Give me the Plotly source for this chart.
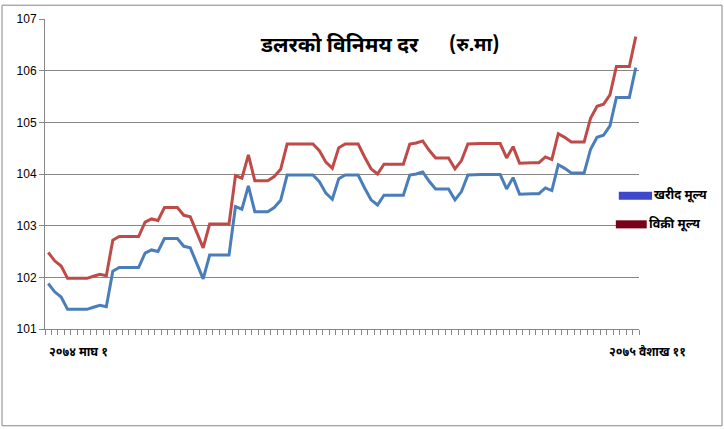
import plotly.graph_objects as go

buy = [101.88, 101.72, 101.62, 101.38, 101.38, 101.38, 101.38, 101.42, 101.46, 101.43,
       102.12, 102.19, 102.19, 102.19, 102.19, 102.47, 102.53, 102.50, 102.75, 102.75,
       102.75, 102.60, 102.57, 102.27, 101.97, 102.43, 102.43, 102.43, 102.43, 103.37,
       103.32, 103.77, 103.27, 103.27, 103.27, 103.35, 103.49, 103.98, 103.98, 103.98,
       103.98, 103.98, 103.85, 103.63, 103.51, 103.91, 103.98, 103.98, 103.98, 103.73,
       103.50, 103.40, 103.59, 103.59, 103.59, 103.59, 103.98, 104.00, 104.04, 103.86,
       103.71, 103.71, 103.71, 103.50, 103.66, 103.98, 103.99, 103.99, 103.99, 103.99,
       103.99, 103.71, 103.93, 103.61, 103.62, 103.62, 103.62, 103.73, 103.68, 104.18,
       104.11, 104.02, 104.02, 104.02, 104.48, 104.71, 104.75, 104.93, 105.48, 105.48,
       105.48, 106.06]

sell = [102.48, 102.32, 102.22, 101.98, 101.98, 101.98, 101.98, 102.02, 102.06, 102.03,
        102.72, 102.79, 102.79, 102.79, 102.79, 103.07, 103.13, 103.10, 103.35, 103.35,
        103.35, 103.20, 103.17, 102.87, 102.57, 103.03, 103.03, 103.03, 103.03, 103.97,
        103.92, 104.37, 103.87, 103.87, 103.87, 103.95, 104.09, 104.58, 104.58, 104.58,
        104.58, 104.58, 104.45, 104.23, 104.11, 104.51, 104.58, 104.58, 104.58, 104.33,
        104.10, 104.00, 104.19, 104.19, 104.19, 104.19, 104.58, 104.60, 104.64, 104.46,
        104.31, 104.31, 104.31, 104.10, 104.26, 104.58, 104.59, 104.59, 104.59, 104.59,
        104.59, 104.31, 104.53, 104.21, 104.22, 104.22, 104.22, 104.33, 104.28, 104.78,
        104.71, 104.62, 104.62, 104.62, 105.08, 105.31, 105.35, 105.53, 106.08, 106.08,
        106.08, 106.66]

title_main = "डलरको विनिमय दर"
title_unit = "(रु.मा)"
start_label = "२०७४ माघ १"
end_label = "२०७५ वैशाख ११"
legend_names = ["खरीद मूल्य", "विक्री मूल्य"]
legend_colors = ["#3F48CC", "#7A0019"]

x = list(range(len(buy)))

DEV = "Noto Sans Devanagari, Lohit Devanagari, Mangal, Noto Sans, sans-serif"

fig = go.Figure()
fig.add_trace(go.Scatter(x=x, y=buy, mode="lines", line=dict(color="#4A7EBB", width=3),
                         name=legend_names[0], showlegend=False))
fig.add_trace(go.Scatter(x=x, y=sell, mode="lines", line=dict(color="#BE4B48", width=3),
                         name=legend_names[1], showlegend=False))

fig.update_layout(
    width=724, height=429,
    margin=dict(l=45, r=85, t=15, b=100),
    paper_bgcolor="white", plot_bgcolor="white",
    font=dict(family="Liberation Sans, Arial, sans-serif", size=12, color="black"),
    xaxis=dict(range=[-0.5, len(buy) - 0.5], tickmode="linear", tick0=-0.5, dtick=1,
               ticks="outside", ticklen=5, tickcolor="#868686", showticklabels=False,
               showgrid=False, showline=True, linecolor="#868686", linewidth=1, zeroline=False),
    yaxis=dict(range=[101, 107], tickmode="linear", tick0=101, dtick=1,
               ticks="outside", ticklen=5, tickcolor="#868686",
               showgrid=True, gridcolor="#868686", gridwidth=1,
               showline=True, linecolor="#868686", linewidth=1, zeroline=False,
               tickfont=dict(size=12, color="black")),
)

def txt(s, x, y, size, anchor="center"):
    return dict(text="<b>" + s + "</b>", x=x, y=y, xref="paper", yref="paper",
                xanchor=anchor, yanchor="middle", showarrow=False,
                font=dict(family=DEV, size=size, color="black"))

ann = [
    txt(title_main, 0.495, 0.911, 21),
    txt(title_unit, 0.722, 0.911, 19),
    txt(start_label, 0.056, -0.077, 12),
    txt(end_label, 1.015, -0.077, 12),
]

shapes = []
leg_y = [0.43, 0.3376]
leg_x0 = [0.966, 0.961]
leg_x1 = [1.022, 1.013]
for i in range(2):
    shapes.append(dict(type="rect", xref="paper", yref="paper",
                       x0=leg_x0[i], x1=leg_x1[i], y0=leg_y[i] - 0.013, y1=leg_y[i] + 0.013,
                       fillcolor=legend_colors[i], line=dict(width=0)))
    ann.append(txt(legend_names[i], leg_x1[i], leg_y[i], 12.5, anchor="left"))

# outer chart border
shapes.append(dict(type="rect", xref="paper", yref="paper",
                   x0=(2 - 45) / 594, x1=(722 - 45) / 594,
                   y0=(329 - 427) / 314, y1=(329 - 1) / 314,
                   line=dict(color="#868686", width=1), fillcolor="rgba(0,0,0,0)"))

fig.update_layout(annotations=ann, shapes=shapes)
fig.write_html("out.html", config={"displayModeBar": False},
               post_script="document.body.style.margin='0';")
